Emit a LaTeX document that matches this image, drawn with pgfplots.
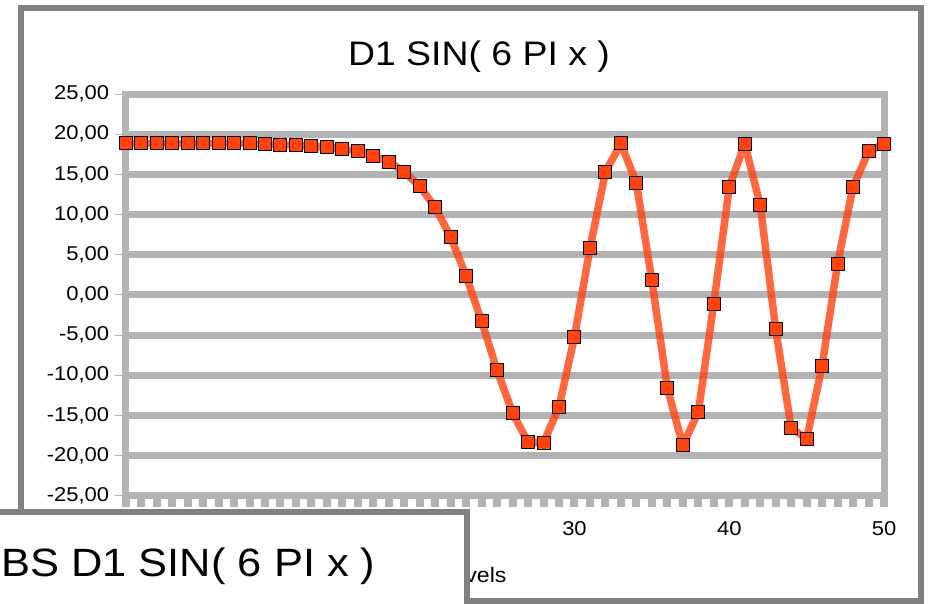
\documentclass[border=0pt]{standalone}
\usepackage{pgfplots}
\pgfplotsset{compat=1.18}
\usepackage{fontspec}
\setmainfont{Liberation Sans}[FakeStretch=1.1]
\definecolor{gridgray}{HTML}{B3B3B3}
\definecolor{framegray}{HTML}{808080}
\definecolor{serie}{HTML}{FF420E}
\begin{document}
\begin{tikzpicture}
\useasboundingbox (0pt,0pt) rectangle (936pt,603pt);
\clip (0pt,0pt) rectangle (936pt,603pt);
\fill[white] (0pt,0pt) rectangle (936pt,603pt);
\draw[framegray, line width=6pt] (21pt,2.5pt) rectangle (921pt,595pt);
\node[font=\fontsize{34}{38}\selectfont, anchor=base] at (479pt,537pt) {D1 SIN( 6 PI x )};
\begin{axis}[
  at={(125.7pt,107.3pt)}, anchor=south west,
  scale only axis, width=758.3pt, height=401.7pt,
  xmin=1, xmax=50, ymin=-25, ymax=25,
  clip=false,
  axis line style={draw=gridgray, line width=7pt},
  ymajorgrids, grid style={draw=gridgray, line width=7pt},
  ytick={-25,-20,...,25},
  xtick={10,20,30,40,50}, minor xtick={1,...,50},
  xtick pos=bottom, ytick pos=left,
  tick align=outside,
  major tick length=11pt, minor tick length=11pt,
  xtick style={draw=gridgray, line width=8pt},
  every minor tick/.append style={draw=gridgray, line width=8pt},
  ytick style={draw=gridgray, line width=1pt},
  /pgf/number format/assume math mode=true,
  ticklabel style={font=\fontsize{20}{22}\selectfont},
  xticklabel style={yshift=-11pt},
  yticklabel style={xshift=-2pt, /pgf/number format/fixed, /pgf/number format/fixed zerofill, /pgf/number format/precision=2, /pgf/number format/use comma},
]
\addplot[draw=serie, draw opacity=0.8, line width=7.5pt, line join=round,
  mark=square*, mark size=6.5pt,
  mark options={fill=serie, draw=black, line width=1pt, opacity=1}]
coordinates {
(1,18.85) (2,18.85) (3,18.85) (4,18.85) (5,18.85) (6,18.85) (7,18.85) (8,18.85) (9,18.85) (10,18.75)
(11,18.7) (12,18.65) (13,18.5) (14,18.4) (15,18.1) (16,17.9) (17,17.3) (18,16.56) (19,15.3) (20,13.5)
(21,10.9) (22,7.2) (23,2.35) (24,-3.3) (25,-9.4) (26,-14.7) (27,-18.35) (28,-18.4) (29,-13.95) (30,-5.2)
(31,5.8) (32,15.3) (33,18.85) (34,13.9) (35,1.8) (36,-11.6) (37,-18.75) (38,-14.6) (39,-1.1) (40,13.4)
(41,18.8) (42,11.2) (43,-4.25) (44,-16.55) (45,-17.95) (46,-8.85) (47,3.9) (48,13.45) (49,17.85) (50,18.8)
};
\end{axis}
\node[font=\fontsize{21}{23}\selectfont, anchor=base east] at (510pt,21pt) {Levels};
\draw[framegray, line width=6pt, fill=white] (-10pt,-10pt) rectangle (467pt,91pt);
\node[font=\fontsize{39.5}{44}\selectfont, anchor=base west, inner sep=0pt] at (1pt,27pt) {BS D1 SIN( 6 PI x )};
\end{tikzpicture}
\end{document}
